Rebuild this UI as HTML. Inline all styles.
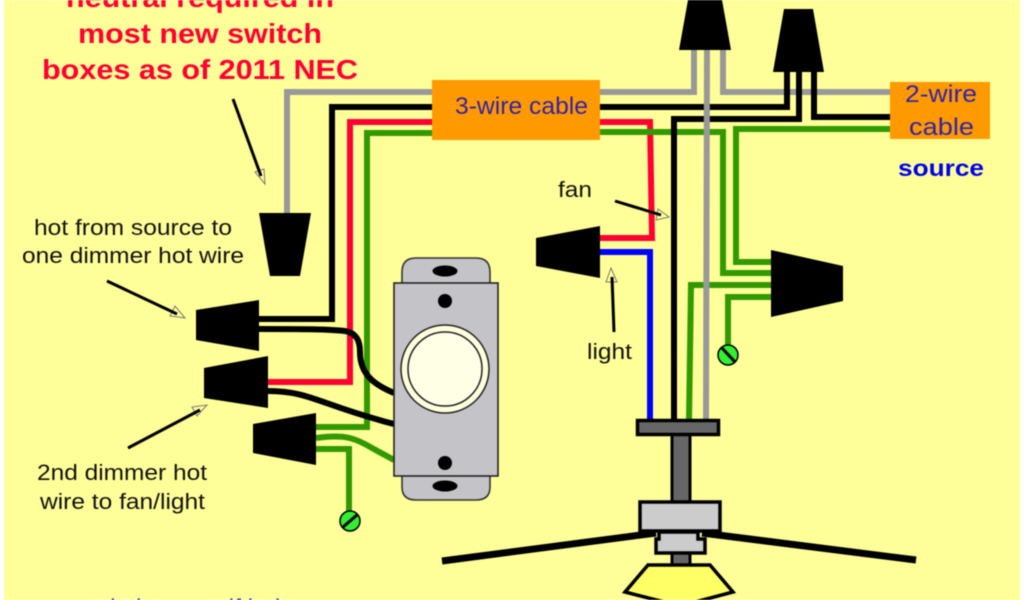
<!DOCTYPE html>
<html><head><meta charset="utf-8"><style>
html,body{margin:0;padding:0;background:#fff}
svg{display:block;filter:blur(.6px)}
text{font-family:"Liberation Sans",sans-serif}
</style></head><body>
<svg width="1024" height="600" viewBox="0 0 1024 600" xmlns="http://www.w3.org/2000/svg">
<rect width="1024" height="600" fill="#fff"/>
<rect x="4" y="0" width="1016" height="600" fill="#ffff99"/>
<g fill="none" stroke-linejoin="miter">
<!-- grey -->
<g stroke="#999" stroke-width="6">
<path d="M432 92H287V214"/>
<path d="M600 92H694V50"/>
<path d="M723 50V92H890"/>
</g>
<!-- left black, red, green -->
<path d="M432 107H332V319H259" stroke="#000" stroke-width="6"/>
<path d="M432 122H350V382H268" stroke="#ff0033" stroke-width="6"/>
<path d="M432 133H367V427H316" stroke="#339900" stroke-width="6"/>
<path d="M316 438C345 434 355 438 372 448L394 460" stroke="#339900" stroke-width="6"/>
<path d="M316 449H349V515" stroke="#339900" stroke-width="6"/>
<path d="M259 329C300 329 325 329 345 331C356 333 360 340 360 352C360 375 375 385 394 393" stroke="#000" stroke-width="6"/>
<path d="M268 391C310 391 320 405 394 424" stroke="#000" stroke-width="6"/>
<!-- right wires -->
<path d="M600 107H787V72" stroke="#000" stroke-width="6"/>
<path d="M600 122H650L652 238H600" stroke="#ff0033" stroke-width="6"/>
<path d="M600 132H723V273H771" stroke="#339900" stroke-width="6"/>
<path d="M890 129H736V262H771" stroke="#339900" stroke-width="6"/>
<path d="M771 285H691L689 420" stroke="#339900" stroke-width="6"/>
<path d="M771 297H728V350" stroke="#339900" stroke-width="6"/>
<path d="M600 252H650V420" stroke="#0000ff" stroke-width="6"/>
<path d="M814 72V117H890" stroke="#000" stroke-width="6"/>
<path d="M799 72V119H674V420" stroke="#000" stroke-width="6"/>
<path d="M707 50L706 420" stroke="#999" stroke-width="6"/>
</g>
<!-- cable boxes -->
<rect x="432" y="80" width="168" height="60" fill="#ff9900"/>
<rect x="890" y="82" width="100" height="57" fill="#ff9900"/>
<!-- wire nuts -->
<g fill="#000">
<polygon points="688,0 722,0 731,50 679,50"/>
<polygon points="784,9 813,9 824,72 773,72"/>
<polygon points="259,213 311,213 300,276 270,276"/>
<polygon points="196,310 259,300 259,351 196,340"/>
<polygon points="204,368 268,356 268,408 204,398"/>
<polygon points="253,424 316,413 316,465 253,453"/>
<polygon points="536,238 600,226 600,278 536,266"/>
<polygon points="771,250 843,266 843,301 771,317"/>
</g>
<!-- dimmer -->
<path d="M402 284V272Q402 258 416 258H476Q490 258 490 272V284Z" fill="#c4c4c8" stroke="#333" stroke-width="1.6"/>
<path d="M402 475V487Q402 500 416 500H476Q490 500 490 487V475Z" fill="#c4c4c8" stroke="#333" stroke-width="1.6"/>
<rect x="394" y="283" width="104" height="193" fill="#c4c4c8" stroke="#222" stroke-width="1.6"/>
<ellipse cx="445" cy="271" rx="12.500" ry="5.500" fill="#000"/>
<ellipse cx="445" cy="486" rx="12.500" ry="5.500" fill="#000"/>
<circle cx="445" cy="301" r="7" fill="#000"/>
<circle cx="445" cy="463" r="7" fill="#000"/>
<circle cx="445" cy="369" r="44" fill="#ffffdd" stroke="#222" stroke-width="1.500"/>
<circle cx="445" cy="369" r="37" fill="#ffffe6" stroke="#222" stroke-width="1.500"/>
<!-- ground screws -->
<g>
<circle cx="350" cy="521" r="10" fill="#33ee33" stroke="#000" stroke-width="1.500"/>
<line x1="343" y1="527" x2="357" y2="515" stroke="#000" stroke-width="3"/>
<circle cx="728" cy="355" r="10" fill="#33ee33" stroke="#000" stroke-width="1.500"/>
<line x1="722" y1="348" x2="735" y2="362" stroke="#000" stroke-width="3"/>
</g>
<!-- fan -->
<path d="M442 561L656 533" stroke="#000" stroke-width="7" fill="none"/>
<path d="M702 533L916 560" stroke="#000" stroke-width="7" fill="none"/>
<rect x="672" y="434" width="18" height="68" fill="#666" stroke="#000" stroke-width="3"/>
<rect x="672" y="552" width="18" height="14" fill="#666" stroke="#000" stroke-width="3"/>
<rect x="637.500" y="420.500" width="81" height="14" fill="#666" stroke="#000" stroke-width="3.500"/>
<rect x="640" y="502" width="80" height="29" fill="#ccc" stroke="#000" stroke-width="3.500"/>
<path d="M659 532H698V539H705V553H656V539H659Z" fill="#ccc" stroke="#000" stroke-width="3.500"/>
<polygon points="648,565 710,565 733,592 680,606 625,592" fill="#ffff66" stroke="#000" stroke-width="3.500"/>
<!-- arrows -->
<g fill="#ffff99" stroke="#777" stroke-width="1">
<polygon points="265,184 255,172 264,169"/>
<polygon points="185,318 170,316 175,306"/>
<polygon points="207,405 197,416 192,407"/>
<polygon points="669,217 656,220 658,209"/>
<polygon points="611,268 606,282 617,282"/>
</g>
<g stroke="#000" stroke-width="3" fill="none">
<path d="M233 99L261 176"/>
<path d="M107 281L177 314"/>
<path d="M128 448L200 410"/>
<path d="M615 201L661 215"/>
<path d="M614 332L612 277"/>
</g>
<!-- text -->
<g fill="#ff0033" font-weight="700" font-size="28" text-anchor="start">
<text x="66" y="7" textLength="268" lengthAdjust="spacingAndGlyphs">neutral required in</text>
<text x="78" y="43" textLength="244" lengthAdjust="spacingAndGlyphs">most new switch</text>
<text x="42" y="79" textLength="316" lengthAdjust="spacingAndGlyphs">boxes as of 2011 NEC</text>
</g>
<g fill="#111" font-size="22">
<text x="34" y="235" textLength="198" lengthAdjust="spacingAndGlyphs">hot from source to</text>
<text x="22" y="263" textLength="222" lengthAdjust="spacingAndGlyphs">one dimmer hot wire</text>
<text x="37" y="480" textLength="170" lengthAdjust="spacingAndGlyphs">2nd dimmer hot</text>
<text x="40" y="509" textLength="165" lengthAdjust="spacingAndGlyphs">wire to fan/light</text>
<text x="558" y="197" textLength="34" lengthAdjust="spacingAndGlyphs">fan</text>
<text x="587" y="359" textLength="45" lengthAdjust="spacingAndGlyphs">light</text>
</g>
<g fill="#3322aa" font-size="24">
<text x="455" y="114" textLength="133" lengthAdjust="spacingAndGlyphs">3-wire cable</text>
<text x="905" y="102" textLength="72" lengthAdjust="spacingAndGlyphs">2-wire</text>
<text x="909" y="135" textLength="65" lengthAdjust="spacingAndGlyphs">cable</text>
</g>
<text x="898" y="176" fill="#0000ee" font-size="23" font-weight="700" textLength="86" lengthAdjust="spacingAndGlyphs">source</text>
<text x="102" y="616" fill="#2222bb" font-size="24" textLength="192" lengthAdjust="spacingAndGlyphs">do it yourself help</text>
</svg>
</body></html>
